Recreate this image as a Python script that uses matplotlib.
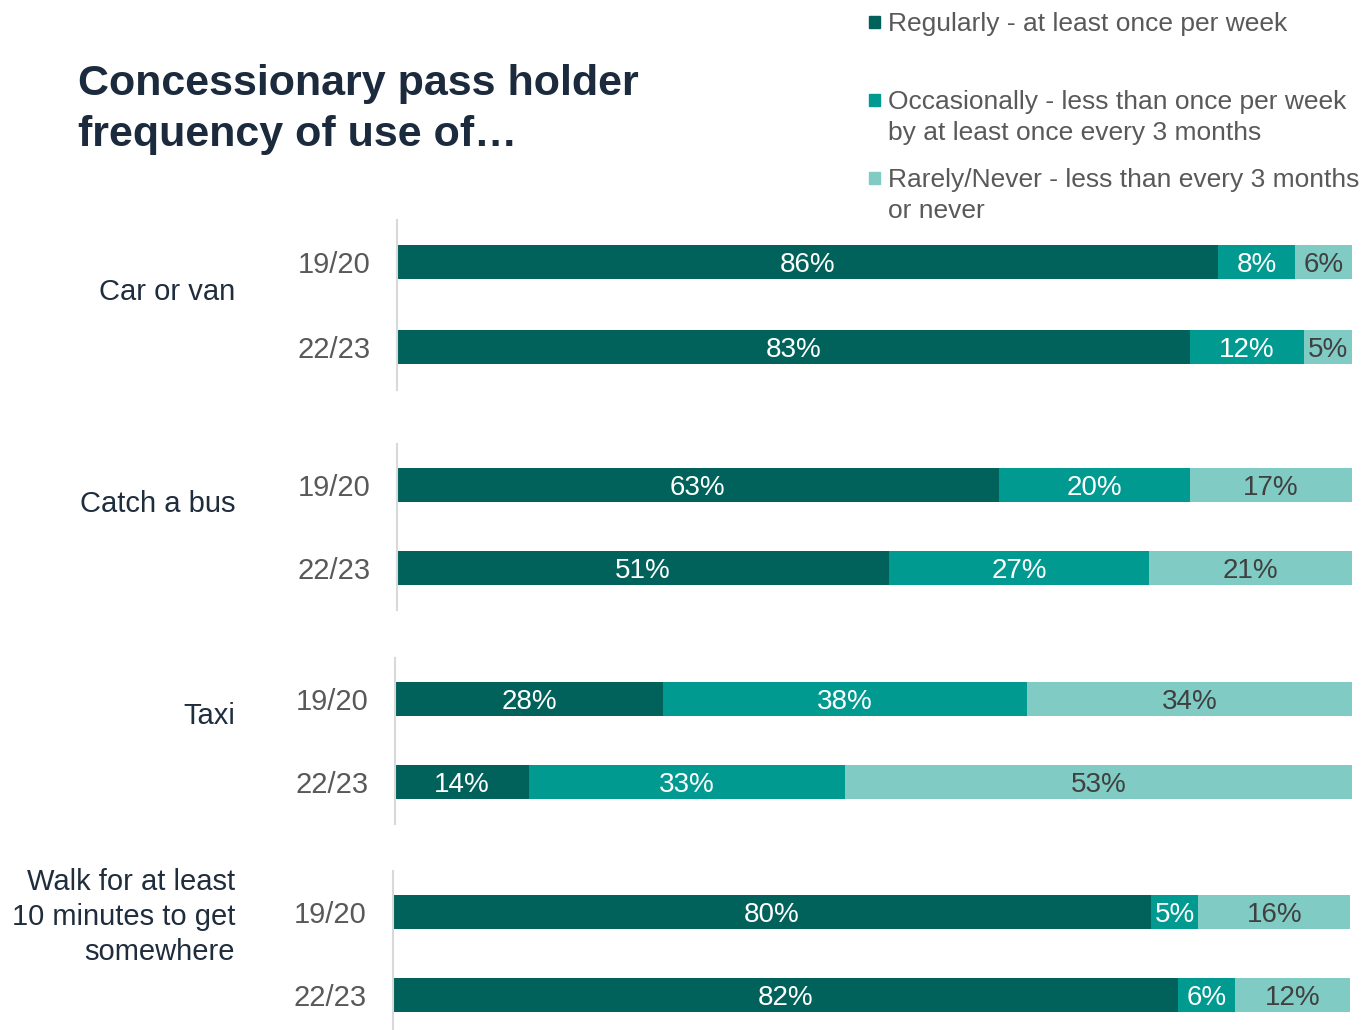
import matplotlib.pyplot as plt
from matplotlib.patches import Rectangle

plt.rcParams['font.family'] = ['Liberation Sans', 'DejaVu Sans']

# 数据
activities = ['Car or van', 'Catch a bus', 'Taxi',
              'Walk for at least\n10 minutes to get\nsomewhere']
years = ['19/20', '22/23']
regularly = [[86, 83], [63, 51], [28, 14], [80, 82]]
occasionally = [[8, 12], [20, 27], [38, 33], [5, 6]]
rarely = [[6, 5], [17, 21], [34, 53], [16, 12]]
series_names = ['Regularly - at least once per week',
                'Occasionally - less than once per week\nby at least once every 3 months',
                'Rarely/Never - less than every 3 months\nor never']
colors = ['#00625A', '#009A90', '#80CBC4']
text_colors = ['white', 'white', '#404040']

W, H = 1368, 1030
fig = plt.figure(figsize=(W / 100, H / 100), dpi=100)

# 每个面板的像素位置 (左, 右, 第一根柱中心, 第二根柱中心)
panels = [(397, 1352, 262, 347), (397, 1352, 485, 568),
          (395, 1352, 699, 782), (393, 1350, 912, 995)]
label_y = [292, 504, 716, 917]

for i, (x0, x1, c1, c2) in enumerate(panels):
    s = c2 - c1
    top = c1 - 0.5 * s
    bottom = c2 + 0.5 * s
    ax = fig.add_axes([x0 / W, 1 - bottom / H, (x1 - x0) / W, (bottom - top) / H])
    vals = [regularly[i], occasionally[i], rarely[i]]
    for j in range(2):
        total = sum(v[j] for v in vals)
        left = 0
        for k in range(3):
            w = vals[k][j] / total * 100
            ax.barh(j, w, left=left, height=0.4, color=colors[k])
            ax.text(left + w / 2, j, f'{vals[k][j]}%', ha='center', va='center_baseline',
                    fontsize=20, color=text_colors[k])
            left += w
    ax.set_xlim(0, 100)
    ax.set_ylim(1.5, -0.5)
    ax.set_yticks([0, 1])
    ax.set_yticklabels(years, fontsize=21, color='#595959')
    ax.tick_params(axis='y', length=0, pad=19)
    ax.set_xticks([])
    for sp in ['top', 'right', 'bottom']:
        ax.spines[sp].set_visible(False)
    ax.spines['left'].set_color('#d9d9d9')
    ax.spines['left'].set_linewidth(1.5)
    # 类别标签
    fig.text(235 / W, 1 - label_y[i] / H, activities[i], ha='right', va='center',
             fontsize=21, color='#1f2d3d', linespacing=1.3)

# 标题
fig.text(78 / W, 1 - 95 / H, 'Concessionary pass holder', fontsize=31,
         fontweight='bold', color='#1b2a3c', va='baseline')
fig.text(78 / W, 1 - 146 / H, 'frequency of use of…', fontsize=31,
         fontweight='bold', color='#1b2a3c', va='baseline')

# 图例
legend_y = [22, 100, 178]
for k in range(3):
    y = legend_y[k]
    fig.patches.append(Rectangle((869 / W, 1 - (y + 6) / H), 11 / W, 12 / H,
                                 transform=fig.transFigure, color=colors[k]))
    for n, line in enumerate(series_names[k].split('\n')):
        fig.text(888 / W, 1 - (y + 9 + 31 * n) / H, line, fontsize=19,
                 color='#595959', va='baseline')

plt.savefig('out.png', dpi=100)
